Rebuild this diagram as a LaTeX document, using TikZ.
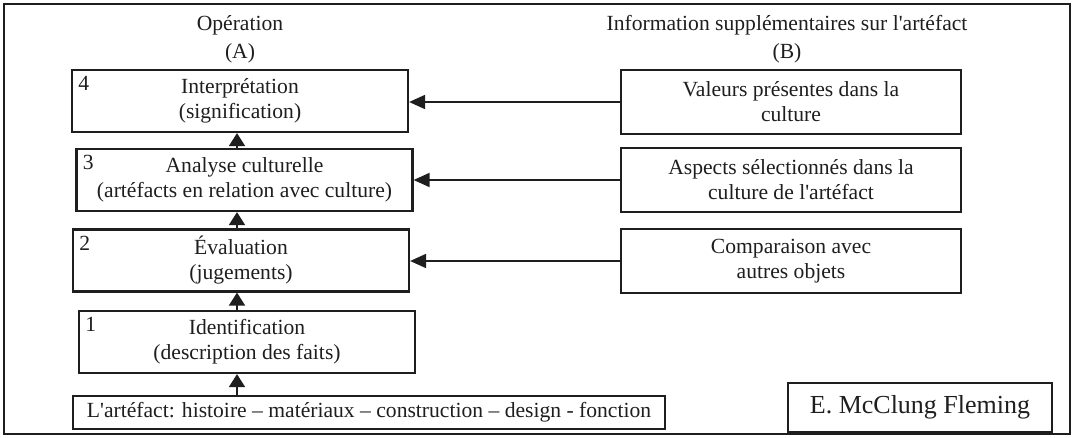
\documentclass[tikz,border=0pt]{standalone}
\usepackage{fontspec}
\setmainfont{Liberation Serif}[Ligatures=TeXOff]
\usepackage{tikz}
\usetikzlibrary{arrows.meta,positioning,calc}
\definecolor{flink}{HTML}{1E1E1E}
\tikzset{
  flbox/.style={draw=flink, line width=1.1pt, inner sep=2pt, align=center,
                font=\fontsize{10.8}{12.5}\selectfont, text=flink},
  flop/.style={flbox, minimum width=168pt, minimum height=31pt},
  flinfo/.style={flbox, minimum width=170pt, minimum height=32pt},
  flnum/.style={anchor=north west, inner sep=3.5pt, font=\fontsize{10.8}{12.5}\selectfont, text=flink},
  flhead/.style={align=center, font=\fontsize{10.8}{14}\selectfont, text=flink},
  flup/.style={-{Triangle[length=6.5pt,width=8pt]}, draw=flink, line width=0.9pt},
  flleft/.style={-{Triangle[length=8pt,width=7pt]}, draw=flink, line width=0.9pt},
}

\begin{document}
\begin{tikzpicture}[x=0.5pt,y=0.5pt]
  \useasboundingbox (0,0) rectangle (1074,-438);
  \draw[flink, line width=0.9pt] (4,-4) rectangle (1070,-434);
  % column heads
  \node[flhead] (hA) at (240,-39) {Opération\\(A)};
  \node[flhead] (hB) at (787,-39) {Information supplémentaires sur l'artéfact\\(B)};
  % operations
  \node[flop, label={[flnum]north west:4}] (op4) at (240,-101)   {Interprétation\\(signification)};
  \node[flop, label={[flnum]north west:3}] (op3) at (244.5,-180) {Analyse culturelle\\(artéfacts en relation avec culture)};
  \node[flop, label={[flnum]north west:2}] (op2) at (241,-260.5) {Évaluation\\(jugements)};
  \node[flop, label={[flnum]north west:1}] (op1) at (247,-342)   {Identification\\(description des faits)};
  \node[flbox, minimum width=296pt, minimum height=16.5pt] (art) at (369,-412.5)
    {L'artéfact: histoire – matériaux – construction – design - fonction};
  % extra information
  \node[flinfo] (in4) at (791,-102) {Valeurs présentes dans la\\culture};
  \node[flinfo] (in3) at (791,-180) {Aspects sélectionnés dans la\\culture de l'artéfact};
  \node[flinfo] (in2) at (791,-261) {Comparaison avec\\autres objets};
  \node[flbox, minimum width=132pt, minimum height=24.5pt, font=\fontsize{13}{15}\selectfont]
    (auth) at (920,-407.5) {E. McClung Fleming};
  % connectors
  \draw[flup] (art.north -| 237,0) -- (op1.south -| 237,0);
  \draw[flup] (op1.north -| 237,0) -- (op2.south -| 237,0);
  \draw[flup] (op2.north -| 237,0) -- (op3.south -| 237,0);
  \draw[flup] (op3.north -| 237,0) -- (op4.south -| 237,0);
  \draw[flleft] (in4.west) -- (in4.west -| op4.east);
  \draw[flleft] (in3.west) -- (in3.west -| op3.east);
  \draw[flleft] (in2.west) -- (in2.west -| op2.east);
\end{tikzpicture}
\end{document}
